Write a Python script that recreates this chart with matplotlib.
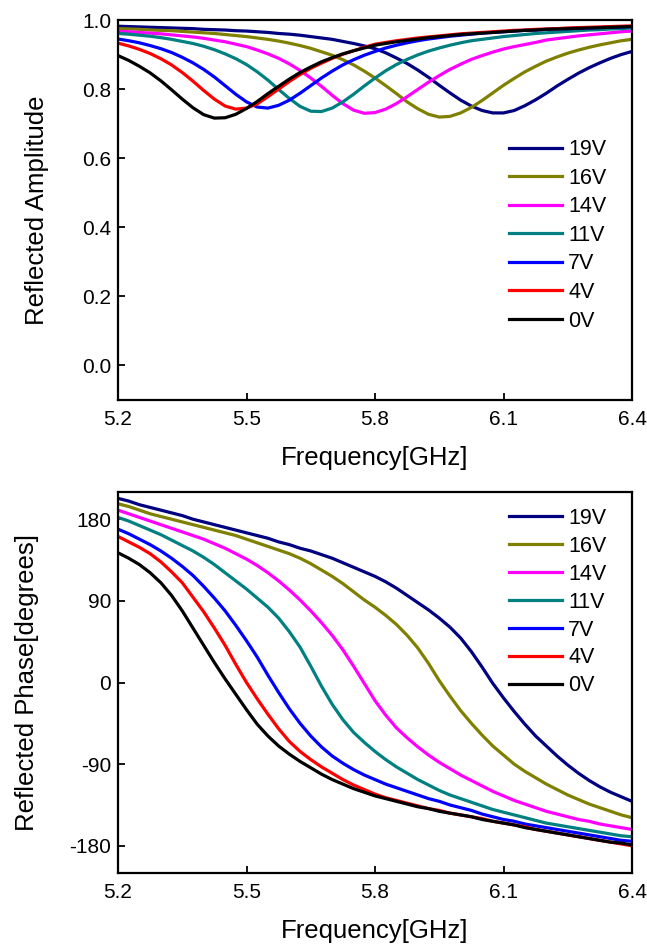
import numpy as np
import matplotlib
matplotlib.use('Agg')
import matplotlib.pyplot as plt

plt.rcParams['font.family'] = ['Liberation Sans', 'DejaVu Sans']
plt.rcParams['axes.unicode_minus'] = False

# frequency grid (GHz), 0.025 step
freq = np.linspace(5.2, 6.4, 49)

labels = ['19V', '16V', '14V', '11V', '7V', '4V', '0V']
colors = ['#000080', '#808000', '#ff00ff', '#008080', '#0000ff', '#ff0000', '#000000']

# reflected amplitude
amp_19 = [0.982, 0.981, 0.980, 0.979, 0.978, 0.977, 0.976, 0.975, 0.973,
          0.972, 0.971, 0.969, 0.968, 0.966, 0.964, 0.961, 0.959,
          0.956, 0.952, 0.948, 0.944, 0.938, 0.932, 0.925, 0.917,
          0.905, 0.890, 0.874, 0.855, 0.834, 0.811, 0.789, 0.768,
          0.751, 0.738, 0.731, 0.731, 0.738, 0.752, 0.769, 0.788,
          0.809, 0.828, 0.846, 0.862, 0.876, 0.889, 0.900, 0.909]
amp_16 = [0.975, 0.974, 0.973, 0.971, 0.970, 0.969, 0.967, 0.965, 0.963,
          0.961, 0.958, 0.955, 0.952, 0.948, 0.944, 0.939, 0.933,
          0.926, 0.918, 0.908, 0.898, 0.885, 0.870, 0.852, 0.832,
          0.810, 0.787, 0.763, 0.743, 0.727, 0.719, 0.721, 0.731,
          0.747, 0.767, 0.789, 0.811, 0.831, 0.850, 0.866, 0.881,
          0.893, 0.904, 0.913, 0.921, 0.928, 0.934, 0.940, 0.944]
amp_14 = [0.967, 0.966, 0.964, 0.962, 0.960, 0.957, 0.954, 0.951, 0.947,
          0.942, 0.937, 0.930, 0.923, 0.913, 0.902, 0.889, 0.873,
          0.854, 0.832, 0.808, 0.782, 0.758, 0.739, 0.730, 0.732,
          0.742, 0.758, 0.778, 0.799, 0.820, 0.839, 0.857, 0.872,
          0.886, 0.897, 0.907, 0.916, 0.923, 0.929, 0.935, 0.942,
          0.946, 0.950, 0.954, 0.957, 0.960, 0.963, 0.966, 0.968]
amp_11 = [0.961, 0.959, 0.956, 0.953, 0.949, 0.944, 0.938, 0.932, 0.924,
          0.914, 0.902, 0.888, 0.871, 0.850, 0.826, 0.799, 0.773,
          0.750, 0.736, 0.735, 0.745, 0.763, 0.785, 0.809, 0.832,
          0.853, 0.871, 0.886, 0.899, 0.910, 0.919, 0.927, 0.934,
          0.940, 0.944, 0.948, 0.952, 0.955, 0.958, 0.961, 0.963,
          0.965, 0.967, 0.969, 0.971, 0.972, 0.974, 0.975, 0.977]
amp_7 = [0.945, 0.940, 0.934, 0.926, 0.917, 0.906, 0.892, 0.876, 0.857,
         0.835, 0.810, 0.785, 0.763, 0.748, 0.745, 0.753, 0.768,
         0.788, 0.810, 0.832, 0.852, 0.870, 0.885, 0.898, 0.909,
         0.919, 0.927, 0.934, 0.940, 0.945, 0.949, 0.953, 0.956,
         0.959, 0.962, 0.964, 0.966, 0.968, 0.970, 0.971, 0.973,
         0.974, 0.975, 0.976, 0.977, 0.978, 0.979, 0.980, 0.981]
amp_4 = [0.933, 0.925, 0.915, 0.903, 0.888, 0.870, 0.848, 0.823, 0.796,
         0.771, 0.751, 0.742, 0.745, 0.757, 0.778, 0.800, 0.822,
         0.842, 0.860, 0.875, 0.889, 0.901, 0.911, 0.921, 0.930,
         0.935, 0.940, 0.944, 0.948, 0.951, 0.954, 0.957, 0.960,
         0.962, 0.964, 0.966, 0.968, 0.970, 0.971, 0.973, 0.974,
         0.975, 0.977, 0.978, 0.979, 0.980, 0.981, 0.982, 0.983]
amp_0 = [0.897, 0.883, 0.866, 0.847, 0.824, 0.798, 0.771, 0.746, 0.726,
         0.716, 0.717, 0.727, 0.744, 0.764, 0.787, 0.808, 0.829,
         0.848, 0.864, 0.879, 0.891, 0.902, 0.911, 0.919, 0.927,
         0.932, 0.937, 0.941, 0.945, 0.949, 0.952, 0.955, 0.958,
         0.960, 0.962, 0.964, 0.966, 0.968, 0.970, 0.971, 0.973,
         0.974, 0.975, 0.976, 0.977, 0.978, 0.979, 0.980, 0.981]

# reflected phase (degrees)
ph_19 = [203, 200, 196, 193, 190, 187, 184, 180, 177,
         174, 171, 168, 165, 162, 159, 155, 152,
         148, 145, 141, 137, 132, 127, 122, 117,
         111, 104, 96, 88, 80, 71, 61, 49,
         34, 17, -1, -17, -32, -46, -59, -70,
         -81, -91, -100, -108, -115, -121, -126, -131]
ph_16 = [197, 194, 190, 186, 183, 180, 177, 174, 171,
         168, 165, 162, 158, 154, 150, 146, 142,
         137, 131, 124, 117, 109, 100, 91, 83,
         74, 64, 52, 38, 21, 2, -15, -31,
         -45, -58, -70, -80, -90, -98, -105, -112,
         -118, -124, -129, -134, -138, -142, -146, -149]
ph_14 = [190, 186, 182, 178, 174, 170, 166, 162, 158,
         153, 148, 142, 136, 129, 121, 112, 102,
         91, 79, 66, 52, 36, 18, -1, -20,
         -36, -50, -61, -71, -80, -88, -95, -102,
         -108, -114, -120, -125, -130, -134, -138, -142,
         -145, -148, -151, -153, -156, -158, -160, -162]
ph_11 = [182, 178, 173, 168, 163, 157, 151, 145, 138,
         130, 121, 112, 103, 93, 83, 71, 56,
         39, 18, -4, -24, -41, -55, -66, -76,
         -85, -93, -100, -107, -113, -119, -124, -128,
         -132, -136, -140, -143, -146, -149, -152, -155,
         -157, -159, -161, -163, -165, -167, -169, -170]
ph_7 = [169, 164, 158, 152, 145, 137, 128, 118, 106,
        93, 79, 63, 46, 28, 8, -11, -29,
        -45, -59, -71, -81, -89, -96, -102, -107,
        -112, -116, -120, -124, -128, -131, -135, -138,
        -141, -145, -148, -151, -153, -156, -158, -160,
        -162, -164, -166, -168, -170, -172, -174, -175]
ph_4 = [161, 155, 149, 142, 133, 122, 110, 94, 78,
        60, 41, 20, 0, -18, -35, -51, -65,
        -76, -85, -93, -100, -107, -113, -118, -123,
        -127, -130, -133, -136, -139, -141, -144, -146,
        -148, -150, -153, -155, -157, -159, -162, -164,
        -166, -168, -170, -172, -174, -176, -178, -180]
ph_0 = [143, 137, 130, 121, 110, 96, 79, 60, 41,
        22, 4, -13, -30, -46, -59, -70, -79,
        -87, -94, -101, -107, -112, -117, -121, -125,
        -128, -131, -134, -137, -139, -142, -144, -146,
        -148, -151, -153, -155, -157, -160, -162, -164,
        -166, -168, -170, -172, -174, -176, -177, -179]

amps = [amp_19, amp_16, amp_14, amp_11, amp_7, amp_4, amp_0]
phases = [ph_19, ph_16, ph_14, ph_11, ph_7, ph_4, ph_0]

W, H = 647, 948
fig = plt.figure(figsize=(W / 100, H / 100), dpi=100)
ax1 = fig.add_axes([118 / W, 1 - 400 / H, 514 / W, 380 / H])
ax2 = fig.add_axes([118 / W, 1 - 873 / H, 514 / W, 381 / H])

for ax, series in ((ax1, amps), (ax2, phases)):
    for y, lab, c in zip(series, labels, colors):
        ax.plot(freq, y, color=c, lw=2.3, label=lab)

ax1.set_ylim(-0.1, 1.0)
ax1.set_yticks([0.0, 0.2, 0.4, 0.6, 0.8, 1.0])
ax1.set_yticklabels(['0.0', '0.2', '0.4', '0.6', '0.8', '1.0'])
ax1.set_ylabel('Reflected Amplitude', fontsize=18.5)
ax1.yaxis.set_label_coords(-0.135, 0.5)

ax2.set_ylim(-210, 210)
ax2.set_yticks([-180, -90, 0, 90, 180])
ax2.set_ylabel('Reflected Phase[degrees]', fontsize=18.5)
ax2.yaxis.set_label_coords(-0.153, 0.5)

for ax in (ax1, ax2):
    ax.set_xlim(5.2, 6.4)
    ax.set_xticks([5.2, 5.5, 5.8, 6.1, 6.4])
    ax.set_xticklabels(['5.2', '5.5', '5.8', '6.1', '6.4'])
    ax.set_xlabel('Frequency[GHz]', fontsize=18.5)
    ax.xaxis.set_label_coords(0.5, -0.122)
    ax.tick_params(direction='in', length=5, width=1.3, labelsize=15,
                   top=False, right=False)
    ax.tick_params(axis='x', pad=7)
    ax.tick_params(axis='y', pad=5)
    for s in ax.spines.values():
        s.set_linewidth(1.6)

ax1.legend(loc='upper left', bbox_to_anchor=(0.761, 0.686), frameon=False,
           borderaxespad=0, borderpad=0, handlelength=2.45, handletextpad=0.3,
           labelspacing=0.35, fontsize=15.5)
ax2.legend(loc='upper left', bbox_to_anchor=(0.761, 0.958), frameon=False,
           borderaxespad=0, borderpad=0, handlelength=2.45, handletextpad=0.3,
           labelspacing=0.32, fontsize=15.5)

fig.savefig('out.png', dpi=100)
